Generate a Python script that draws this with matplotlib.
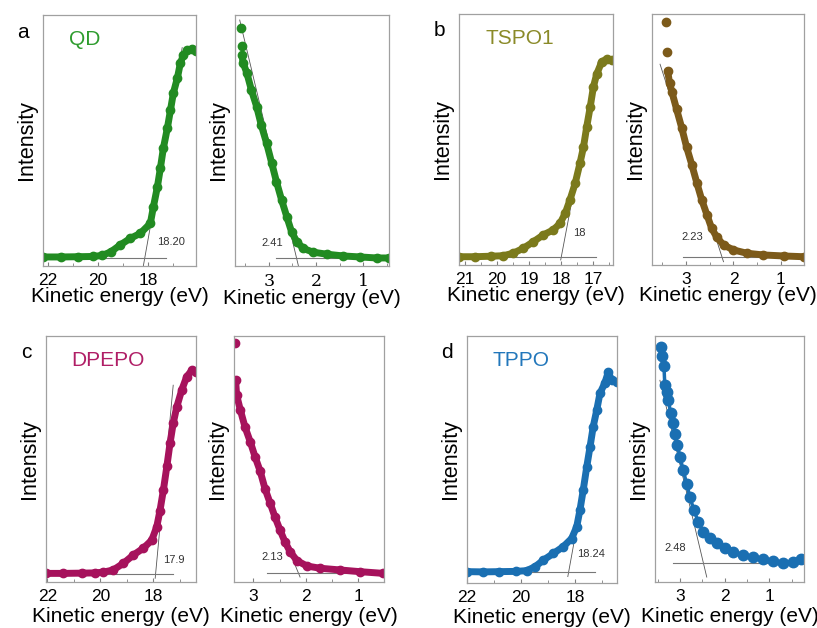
import matplotlib
matplotlib.use("Agg")
import matplotlib.pyplot as plt
from matplotlib.ticker import MultipleLocator, NullLocator

plt.rcParams['font.family'] = ['Liberation Sans', 'DejaVu Sans']

# ---------------- data ----------------
# secondary electron cutoff side (high kinetic energy), intensity normalised 0..1
qd_cut_e = [22.2, 21.5, 20.8, 20.2, 19.85, 19.5, 19.12, 18.72, 18.32, 17.92, 17.8, 17.64, 17.52,
            17.4, 17.24, 17.12, 17.0, 16.84, 16.72, 16.6, 16.44, 16.24, 16.1]
qd_cut_i = [0.036, 0.036, 0.037, 0.038, 0.042, 0.056, 0.084, 0.11, 0.13, 0.17, 0.235, 0.315, 0.39,
            0.47, 0.55, 0.62, 0.69, 0.75, 0.81, 0.84, 0.86, 0.865, 0.855]
qd_val_e = [3.60, 3.58, 3.57, 3.55, 3.47, 3.37, 3.26, 3.16, 3.05, 2.94, 2.84, 2.73, 2.62, 2.52,
            2.41, 2.27, 2.06, 1.77, 1.42, 1.06, 0.71, 0.46]
qd_val_i = [0.95, 0.876, 0.84, 0.81, 0.77, 0.70, 0.635, 0.56, 0.49, 0.41, 0.336, 0.263, 0.196,
            0.137, 0.097, 0.07, 0.055, 0.047, 0.04, 0.036, 0.032, 0.032]

tspo_cut_e = [21.19, 20.7, 20.2, 19.81, 19.5, 19.18, 18.87, 18.56, 18.25, 18.04, 17.88, 17.73,
              17.57, 17.42, 17.31, 17.21, 17.1, 17.0, 16.9, 16.74, 16.59, 16.43]
tspo_cut_i = [0.033, 0.033, 0.035, 0.037, 0.047, 0.067, 0.093, 0.12, 0.14, 0.166, 0.206, 0.26,
              0.325, 0.405, 0.47, 0.55, 0.63, 0.71, 0.76, 0.81, 0.82, 0.817]
tspo_val_e = [3.42, 3.41, 3.39, 3.35, 3.30, 3.20, 3.09, 2.99, 2.88, 2.77, 2.67, 2.56, 2.46, 2.35,
              2.21, 2.0, 1.72, 1.37, 0.94, 0.52]
tspo_val_i = [0.97, 0.85, 0.774, 0.726, 0.69, 0.62, 0.545, 0.47, 0.40, 0.325, 0.26, 0.20, 0.146,
              0.11, 0.08, 0.06, 0.047, 0.04, 0.036, 0.033]

dpepo_cut_e = [22.05, 21.4, 20.7, 20.2, 19.89, 19.51, 19.13, 18.75, 18.38, 18.06, 17.87, 17.75,
               17.62, 17.49, 17.37, 17.25, 17.12, 16.93, 16.74, 16.55, 16.39]
dpepo_cut_i = [0.035, 0.035, 0.036, 0.037, 0.04, 0.049, 0.076, 0.11, 0.137, 0.17, 0.225, 0.29,
               0.374, 0.47, 0.564, 0.645, 0.71, 0.78, 0.835, 0.86, 0.855]
dpepo_val_e = [3.35, 3.34, 3.32, 3.25, 3.16, 3.06, 2.97, 2.87, 2.78, 2.68, 2.59, 2.49, 2.40, 2.30,
               2.17, 1.98, 1.73, 1.35, 0.97, 0.52]
dpepo_val_i = [0.97, 0.82, 0.76, 0.70, 0.63, 0.57, 0.51, 0.45, 0.38, 0.32, 0.265, 0.21, 0.164,
               0.123, 0.087, 0.065, 0.056, 0.049, 0.042, 0.035]

tppo_cut_e = [22.0, 21.4, 20.8, 20.2, 19.79, 19.48, 19.17, 18.80, 18.44, 18.13, 17.94, 17.82,
              17.70, 17.57, 17.45, 17.33, 17.20, 17.08, 16.90, 16.77, 16.65, 16.46]
tppo_cut_i = [0.046, 0.045, 0.046, 0.047, 0.05, 0.066, 0.093, 0.12, 0.147, 0.18, 0.228, 0.296,
              0.376, 0.47, 0.55, 0.633, 0.70, 0.768, 0.81, 0.855, 0.82, 0.815]
tppo_val_e = [3.43, 3.40, 3.36, 3.34, 3.30, 3.26, 3.21, 3.16, 3.11, 3.06, 3.0, 2.93, 2.85, 2.78,
              2.69, 2.59, 2.48, 2.33, 2.18, 1.99, 1.81, 1.58, 1.36, 1.14, 0.91, 0.69, 0.47, 0.28]
tppo_val_i = [0.954, 0.92, 0.88, 0.80, 0.774, 0.74, 0.686, 0.645, 0.60, 0.557, 0.51, 0.455, 0.40,
              0.347, 0.293, 0.245, 0.205, 0.178, 0.157, 0.137, 0.123, 0.11, 0.10, 0.092, 0.087,
              0.078, 0.083, 0.092]

# number of isolated leading points at the top of each valence curve
val_isolated = [3, 3, 2, 0]

# fitted lines: (x0, y0, x1, y1), baselines: (x_start, x_end, y)
cut_tangents = [(18.2, 0.0, 16.65, 0.87), (18.02, 0.02, 16.85, 0.81),
                (17.93, 0.015, 17.25, 0.80), (18.27, 0.026, 16.95, 0.82)]
cut_baselines = [(22.2, 17.28, 0.032), (21.19, 16.93, 0.031),
                 (22.05, 17.25, 0.033), (22.0, 17.27, 0.043)]
val_tangents = [(2.36, -0.01, 3.62, 0.98), (2.21, 0.013, 3.55, 0.80),
                (2.11, 0.02, 2.40, 0.17), (2.40, 0.02, 3.45, 0.82)]
val_baselines = [(2.86, 0.45, 0.032), (3.07, 0.51, 0.031),
                 (2.75, 0.51, 0.035), (3.16, 0.22, 0.076)]

cut_values = ["18.20", "18", "17.9", "18.24"]
val_values = ["2.41", "2.23", "2.13", "2.48"]
cut_label_xy = [(17.64, 0.075), (17.63, 0.107), (17.62, 0.07), (17.94, 0.096)]
val_label_xy = [(3.15, 0.07), (3.09, 0.09), (2.84, 0.08), (3.34, 0.117)]

names = ["QD", "TSPO1", "DPEPO", "TPPO"]
letters = ["a", "b", "c", "d"]
cut_xlims = [(22.2, 16.1), (21.19, 16.39), (22.05, 16.39), (22.0, 16.45)]
val_xlims = [(3.72, 0.45), (3.72, 0.51), (3.37, 0.51), (3.56, 0.22)]
cut_major = [2, 1, 2, 2]
cut_minor = [1, 0.5, 1, 1]

colors_cut = ["#228b22", "#7b7a1c", "#a6125c", "#1a6fb2"]
colors_val = ["#228b22", "#7c5a1a", "#a6125c", "#1a6fb2"]
title_colors = ["#2e9c2e", "#8a8a28", "#b01e66", "#2277bb"]

# ---------------- layout (pixels: left, top, right, bottom) ----------------
W, H = 817, 628
cut_boxes = [(43, 15, 196, 266), (459, 14, 613, 265), (46, 336, 196, 582), (467, 336, 617, 583)]
val_boxes = [(235, 15, 389, 266), (652, 14, 804, 265), (234, 336, 384, 582), (655, 336, 804, 582)]
label_pad = [-1, -1, 2, 2]   # panels a, b sit on the top row

cut_data = [(qd_cut_e, qd_cut_i), (tspo_cut_e, tspo_cut_i),
            (dpepo_cut_e, dpepo_cut_i), (tppo_cut_e, tppo_cut_i)]
val_data = [(qd_val_e, qd_val_i), (tspo_val_e, tspo_val_i),
            (dpepo_val_e, dpepo_val_i), (tppo_val_e, tppo_val_i)]

fig = plt.figure(figsize=(W / 100, H / 100), dpi=100)


def make_ax(box, pad):
    l, t, r, b = box
    ax = fig.add_axes([l / W, 1 - b / H, (r - l) / W, (b - t) / H])
    for s in ax.spines.values():
        s.set_color("#a0a0a0")
        s.set_linewidth(0.9)
    ax.set_ylim(0, 1)
    ax.yaxis.set_major_locator(NullLocator())
    ax.tick_params(axis="x", direction="in", length=3, width=0.8, color="#808080",
                   labelsize=12.5, pad=5)
    ax.tick_params(axis="x", which="minor", direction="in", length=2, width=0.7, color="#909090")
    ax.set_xlabel("Kinetic energy (eV)", fontsize=15, labelpad=pad)
    ax.set_ylabel("Intensity", fontsize=15.5, labelpad=4)
    return ax


for k in range(4):
    # cutoff panel
    ax = make_ax(cut_boxes[k], label_pad[k])
    e, i = cut_data[k]
    x0, y0, x1, y1 = cut_tangents[k]
    ax.plot([x0, x1], [y0, y1], color="#555555", lw=0.6, zorder=1)
    xs, xe, yb = cut_baselines[k]
    ax.plot([xs, xe], [yb, yb], color="#777777", lw=0.8, zorder=1)
    ax.plot(e, i, "-", color=colors_cut[k], lw=5.0, solid_capstyle="round", zorder=2)
    ax.plot(e, i, "o", color=colors_cut[k], ms=6, zorder=2)
    ax.set_xlim(*cut_xlims[k])
    ax.xaxis.set_major_locator(MultipleLocator(cut_major[k]))
    ax.xaxis.set_minor_locator(MultipleLocator(cut_minor[k]))
    lx, ly = cut_label_xy[k]
    ax.text(lx, ly, cut_values[k], fontsize=8, color="#333333", ha="left", va="bottom", zorder=3)
    ax.text(0.17, 0.94, names[k], transform=ax.transAxes, fontsize=15,
            color=title_colors[k], ha="left", va="top")
    l, t, r, b = cut_boxes[k]
    fig.text((l - 20) / W, 1 - (t + 17) / H, letters[k], fontsize=15, ha="center", va="center")

    # valence panel
    ax = make_ax(val_boxes[k], label_pad[k])
    e, i = val_data[k]
    n = val_isolated[k]
    x0, y0, x1, y1 = val_tangents[k]
    ax.plot([x0, x1], [y0, y1], color="#555555", lw=0.6, zorder=1)
    xs, xe, yb = val_baselines[k]
    ax.plot([xs, xe], [yb, yb], color="#777777", lw=0.8, zorder=1)
    if k == 3:
        ax.plot(e, i, "-", color=colors_val[k], lw=2.5, zorder=2)
        ax.plot(e, i, "o", color=colors_val[k], ms=7.5, zorder=2)
    else:
        start = n - 1 if n else 0
        ax.plot(e[start:], i[start:], "-", color=colors_val[k], lw=5.0,
                solid_capstyle="round", zorder=2)
        ax.plot(e, i, "o", color=colors_val[k], ms=6, zorder=2)
    ax.set_xlim(*val_xlims[k])
    ax.xaxis.set_major_locator(MultipleLocator(1))
    ax.xaxis.set_minor_locator(MultipleLocator(0.5))
    lx, ly = val_label_xy[k]
    ax.text(lx, ly, val_values[k], fontsize=8, color="#333333", ha="left", va="bottom", zorder=3)
    if k == 0:
        for lab in ax.get_xticklabels():
            lab.set_family("DejaVu Serif")

plt.savefig("out.png", dpi=100)
